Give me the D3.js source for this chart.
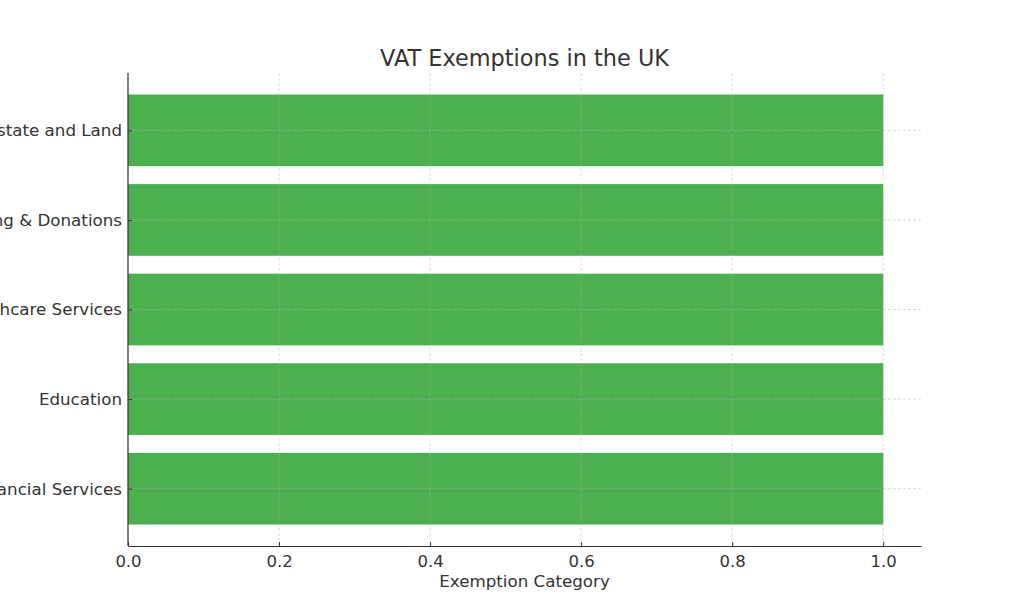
<!DOCTYPE html>
<html>
<head>
<meta charset="utf-8">
<script src="https://cdn.jsdelivr.net/npm/d3@7"></script>
<style>
  body { margin: 0; background: #fff; }
  svg { display: block; font-family: "DejaVu Sans", sans-serif; }
</style>
</head>
<body>
<div id="chart"></div>
<script>
// data, bottom to top as drawn
const categories = ['Financial Services', 'Education', 'Healthcare Services', 'Fundraising & Donations', 'Real Estate and Land']
const values = [1, 1, 1, 1, 1]
const xTicks = [0, 0.2, 0.4, 0.6, 0.8, 1.0]

const params = {
  width: 1024,
  height: 614,
  left: 128,
  right: 921,
  top: 73,
  bottom: 546,
}

const textColor = '#333333'

const svg = d3.select('#chart')
  .append('svg')
  .attr('width', params.width)
  .attr('height', params.height)

const x = d3.scaleLinear()
  .domain([0, 1.05])
  .range([params.left, params.right])

// matplotlib style: bars at integer positions, height 0.8, 5% margins
const y = d3.scaleLinear()
  .domain([-0.64, categories.length - 1 + 0.64])
  .range([params.bottom, params.top])

const barH = y(0) - y(0.8)

// bars
svg.append('g')
  .selectAll('rect')
  .data(values)
  .enter()
  .append('rect')
  .attr('x', x(0))
  .attr('y', (d, i) => y(i + 0.4))
  .attr('width', d => x(d) - x(0))
  .attr('height', barH)
  .attr('fill', '#4caf50')

// grid over bars
const grid = svg.append('g')
  .attr('stroke', '#b0b0b0')
  .attr('stroke-opacity', 0.55)
  .attr('stroke-dasharray', '3,2')
  .attr('stroke-width', 0.8)

grid.selectAll('line.v')
  .data(xTicks)
  .enter()
  .append('line')
  .attr('x1', d => x(d))
  .attr('x2', d => x(d))
  .attr('y1', params.top)
  .attr('y2', params.bottom)

grid.selectAll('line.h')
  .data(categories)
  .enter()
  .append('line')
  .attr('x1', params.left)
  .attr('x2', params.right)
  .attr('y1', (d, i) => y(i))
  .attr('y2', (d, i) => y(i))

// x axis
const xAxis = svg.append('g')
  .attr('transform', `translate(0,${params.bottom})`)
  .call(d3.axisBottom(x)
    .tickValues(xTicks)
    .tickFormat(d3.format('.1f'))
    .tickSizeInner(-4)
    .tickSizeOuter(0)
    .tickPadding(9))

xAxis.select('.domain').attr('stroke', textColor).attr('stroke-width', 1.2)
xAxis.selectAll('.tick line').attr('stroke', textColor)
xAxis.selectAll('.tick text')
  .attr('fill', textColor)
  .style('font-size', '16.5px')
  .style('font-family', '"DejaVu Sans", sans-serif')

// y axis
const yAxis = svg.append('g')
  .attr('transform', `translate(${params.left},0)`)
  .call(d3.axisLeft(y)
    .tickValues(d3.range(categories.length))
    .tickFormat(i => categories[i])
    .tickSizeInner(-4)
    .tickSizeOuter(0)
    .tickPadding(6))

yAxis.select('.domain')
  .attr('d', `M0,${params.top}V${params.bottom}`)
  .attr('stroke', textColor)
  .attr('stroke-width', 1.2)
yAxis.selectAll('.tick line').attr('stroke', textColor)
yAxis.selectAll('.tick text')
  .attr('fill', textColor)
  .style('font-size', '16.7px')
  .style('font-family', '"DejaVu Sans", sans-serif')

// title
svg.append('text')
  .attr('x', (params.left + params.right) / 2)
  .attr('y', 66)
  .attr('text-anchor', 'middle')
  .attr('fill', textColor)
  .style('font-size', '22.4px')
  .text('VAT Exemptions in the UK')

// x label
svg.append('text')
  .attr('x', (params.left + params.right) / 2)
  .attr('y', 587)
  .attr('text-anchor', 'middle')
  .attr('fill', textColor)
  .style('font-size', '16.7px')
  .text('Exemption Category')
</script>
</body>
</html>
